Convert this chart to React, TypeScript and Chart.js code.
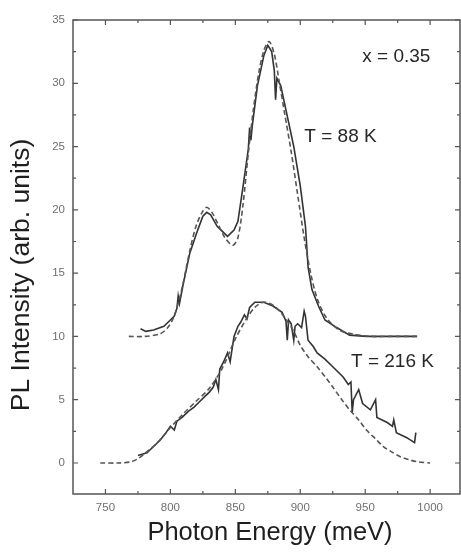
import React, { useEffect, useRef } from 'react';
import { Chart, registerables } from 'chart.js';

Chart.register(...registerables);

// T = 88 K (offset by 10), measured (solid)
const t88Energy = [777, 781, 787, 795, 800, 803, 805, 806, 807, 810, 815, 821, 825, 828, 831, 836, 841, 844, 849, 852, 854, 856, 860, 861, 862, 863, 867, 872, 875, 878, 880, 881, 882, 885, 890, 895, 900, 904, 906, 909, 914, 919, 928, 938, 951, 970, 990];
const t88Measured = [10.6, 10.4, 10.5, 10.8, 11.3, 11.6, 12.2, 13.2, 12.6, 14.2, 16.6, 18.4, 19.5, 19.8, 19.6, 18.7, 18.2, 17.9, 18.4, 19.1, 20.5, 21.9, 24.8, 26.5, 25.5, 26.6, 29.8, 32.2, 33.0, 32.5, 31.0, 28.7, 30.4, 29.8, 27.4, 25.0, 21.9, 18.7, 15.5, 13.7, 12.4, 11.3, 10.7, 10.1, 10.0, 10.0, 10.0];

// T = 88 K model (dashed)
const t88ModelEnergy = [768, 780, 792, 798, 802, 806, 810, 815, 820, 825, 828, 832, 837, 842, 848, 852, 856, 860, 864, 868, 872, 876, 880, 884, 888, 893, 898, 903, 908, 913, 920, 930, 940, 955, 970, 990];
const t88Model = [10.0, 10.0, 10.2, 10.7, 11.4, 12.6, 14.3, 16.8, 18.8, 19.9, 20.2, 19.8, 18.8, 17.8, 17.2, 17.8, 20.5, 24.5, 28.0, 30.8, 32.6, 33.3, 32.3, 30.0, 27.6, 24.6, 21.2, 17.8, 15.0, 13.0, 11.5, 10.5, 10.2, 10.0, 10.0, 10.0];

// T = 216 K measured (solid)
const t216Energy = [775, 782, 787, 792, 796, 800, 803, 805, 809, 814, 818, 822, 826, 830, 833, 835, 837, 838, 841, 844, 846, 849, 852, 854, 857, 859, 861, 865, 872, 879, 886, 889, 890, 891, 893, 895, 896, 898, 901, 903, 904, 906, 910, 913, 919, 925, 933, 937, 939, 940, 941, 945, 948, 954, 958, 959, 963, 967, 971, 972, 974, 982, 988, 989];
const t216Measured = [0.6, 0.8, 1.3, 1.8, 2.3, 2.9, 2.6, 3.3, 3.6, 4.1, 4.4, 4.8, 5.2, 5.6, 6.0, 6.6, 5.8, 7.4, 8.0, 8.7, 8.0, 10.0, 10.8, 11.1, 11.7, 11.4, 12.3, 12.7, 12.7, 12.4, 11.9, 11.2, 9.7, 11.3, 11.0, 9.7, 10.8, 11.0, 10.7, 12.0, 11.6, 9.7, 9.2, 8.7, 8.2, 7.6, 6.8, 6.2, 6.4, 4.0, 5.0, 5.8, 4.7, 4.2, 5.0, 3.6, 3.4, 3.2, 2.9, 3.4, 2.4, 2.0, 1.6, 2.4];

// T = 216 K model (dashed)
const t216ModelEnergy = [746, 760, 770, 776, 782, 790, 800, 810, 820, 830, 840, 850, 858, 865, 872, 880, 888, 895, 900, 906, 913, 920, 925, 932, 938, 945, 951, 958, 964, 970, 977, 984, 990, 1000];
const t216Model = [0, 0, 0.1, 0.4, 0.9, 1.6, 2.8, 3.9, 4.9, 5.9, 7.5, 9.8, 11.3, 12.3, 12.7, 12.4, 11.5, 10.4, 9.3, 8.4, 7.6, 6.7, 6.0, 5.0, 4.2, 3.4, 2.6, 1.9, 1.3, 0.9, 0.5, 0.25, 0.1, 0];

const xTickLabels = ['750', '800', '850', '900', '950', '1000'];
const xMinorTicks = [775, 825, 875, 925, 975];
const yTickLabels = ['0', '5', '10', '15', '20', '25', '30', '35'];
const yMinorTicks = [2.5, 7.5, 12.5, 17.5, 22.5, 27.5, 32.5];

const annotations = [
  { text: 'x = 0.35', x: 974, y: 32.1 },
  { text: 'T = 88 K', x: 931, y: 25.8 },
  { text: 'T = 216 K', x: 971, y: 8.0 },
];

const xTitle = 'Photon Energy (meV)';
const yTitle = 'PL Intensity (arb. units)';

const toPoints = (xs: number[], ys: number[]) => xs.map((x, i) => ({ x, y: ys[i] }));

const decorPlugin = {
  id: 'decor',
  beforeDraw(chart: any) {
    const ctx = chart.ctx;
    ctx.save();
    ctx.fillStyle = '#ffffff';
    ctx.fillRect(0, 0, chart.width, chart.height);
    ctx.restore();
  },
  afterDraw(chart: any) {
    const { ctx, chartArea: a } = chart;
    const xs = chart.scales.x;
    const ys = chart.scales.y;
    ctx.save();
    ctx.strokeStyle = '#555555';
    ctx.lineWidth = 1.5;
    ctx.strokeRect(a.left, a.top, a.right - a.left, a.bottom - a.top);
    ctx.lineWidth = 1.2;
    const xt = (v: number, len: number) => {
      const px = xs.getPixelForValue(v);
      ctx.beginPath();
      ctx.moveTo(px, a.bottom); ctx.lineTo(px, a.bottom - len);
      ctx.moveTo(px, a.top); ctx.lineTo(px, a.top + len);
      ctx.stroke();
    };
    const yt = (v: number, len: number) => {
      const py = ys.getPixelForValue(v);
      ctx.beginPath();
      ctx.moveTo(a.left, py); ctx.lineTo(a.left + len, py);
      ctx.moveTo(a.right, py); ctx.lineTo(a.right - len, py);
      ctx.stroke();
    };
    xTickLabels.forEach((l) => xt(Number(l), 5));
    xMinorTicks.forEach((v) => xt(v, 3));
    yTickLabels.forEach((l) => yt(Number(l), 5));
    yMinorTicks.forEach((v) => yt(v, 3));

    ctx.fillStyle = '#6f6f6f';
    ctx.font = '11.5px "Liberation Sans", Arial, sans-serif';
    ctx.textAlign = 'center';
    ctx.textBaseline = 'middle';
    xTickLabels.forEach((l) => {
      ctx.fillText(l, xs.getPixelForValue(Number(l)), a.bottom + 14);
    });
    ctx.textAlign = 'right';
    yTickLabels.forEach((l) => {
      ctx.fillText(l, a.left - 8, ys.getPixelForValue(Number(l)));
    });

    ctx.fillStyle = '#262626';
    ctx.font = '19px "Liberation Sans", Arial, sans-serif';
    ctx.textAlign = 'center';
    annotations.forEach((an) => {
      ctx.fillText(an.text, xs.getPixelForValue(an.x), ys.getPixelForValue(an.y));
    });

    ctx.fillStyle = '#1e1e1e';
    ctx.font = '25.5px "Liberation Sans", Arial, sans-serif';
    ctx.fillText(xTitle, 270, 533);
    ctx.translate(22, 275);
    ctx.rotate(-Math.PI / 2);
    ctx.font = '26.5px "Liberation Sans", Arial, sans-serif';
    ctx.fillText(yTitle, 0, 0);
    ctx.restore();
  },
};

export default function App() {
  const ref = useRef<HTMLCanvasElement | null>(null);
  useEffect(() => {
    if (!ref.current) return;
    const solid = { borderColor: '#333333', borderWidth: 1.6, pointRadius: 0, fill: false, tension: 0 };
    const dashed = { borderColor: '#555555', borderWidth: 1.6, borderDash: [5, 3], pointRadius: 0, fill: false, tension: 0.3 };
    const chart = new Chart(ref.current, {
      type: 'line',
      data: {
        datasets: [
          { label: 'T = 88 K model', data: toPoints(t88ModelEnergy, t88Model), ...dashed },
          { label: 'T = 88 K', data: toPoints(t88Energy, t88Measured), ...solid },
          { label: 'T = 216 K model', data: toPoints(t216ModelEnergy, t216Model), ...dashed },
          { label: 'T = 216 K', data: toPoints(t216Energy, t216Measured), ...solid },
        ],
      },
      options: {
        responsive: false,
        animation: false,
        layout: { padding: { left: 73, top: 20, right: 1, bottom: 60 } },
        plugins: { legend: { display: false }, tooltip: { enabled: false } },
        scales: {
          x: { type: 'linear', min: 725, max: 1023, display: false },
          y: { type: 'linear', min: -2.45, max: 35, display: false },
        },
      },
      plugins: [decorPlugin],
    } as any);
    return () => chart.destroy();
  }, []);
  return (
    <div style={{ position: 'fixed', left: 0, top: 0, width: 461, height: 554 }}>
      <canvas ref={ref} width={461} height={554} style={{ width: 461, height: 554 }} />
    </div>
  );
}
